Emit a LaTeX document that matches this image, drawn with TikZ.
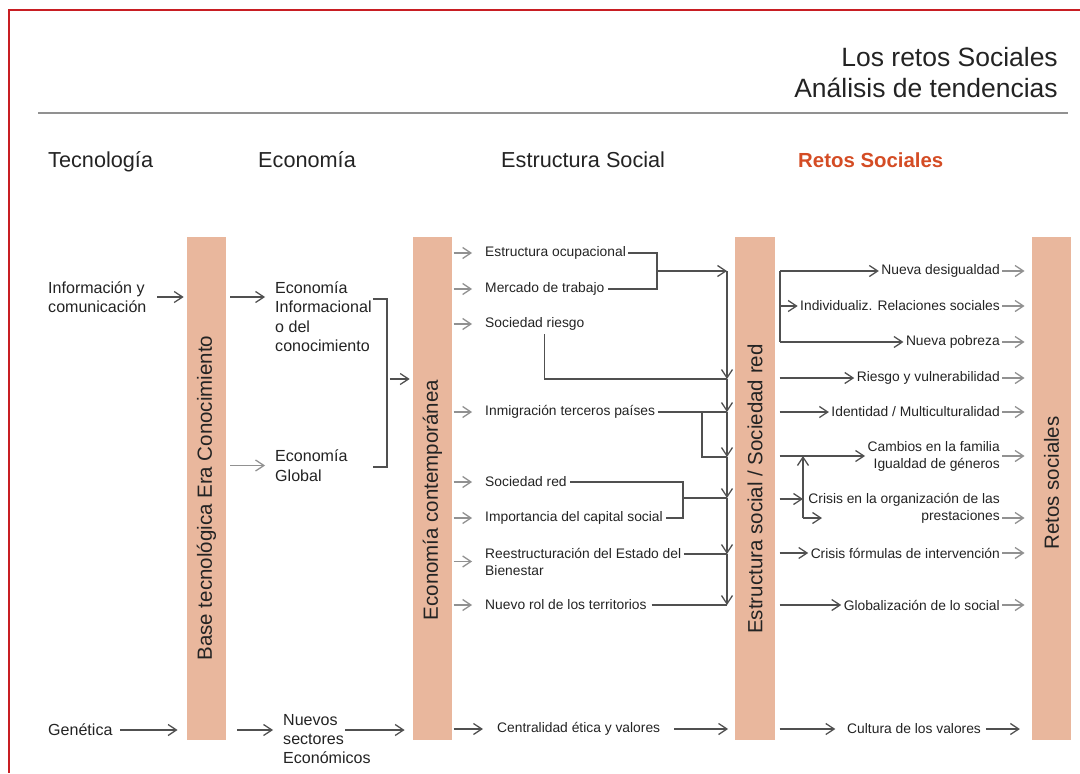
\documentclass[tikz,border=0pt]{standalone}
\usepackage{fontspec}
\setmainfont{Liberation Sans}
\usetikzlibrary{arrows.meta}

\definecolor{salmon}{RGB}{233,183,157}
\definecolor{marco}{RGB}{200,30,35}
\definecolor{naranja}{RGB}{212,76,36}
\definecolor{texto}{RGB}{35,35,35}
\definecolor{gris}{RGB}{80,80,80}
\definecolor{grisclaro}{RGB}{145,145,145}

\tikzset{
  barra/.style={fill=salmon, minimum width=1.18cm, minimum height=15.09cm, inner sep=0pt},
  rotulo/.style={rotate=90, text=texto, font=\fontsize{17.5}{20}\selectfont},
  titulo/.style={text=texto, font=\fontsize{18.5}{22}\selectfont, anchor=base west, inner sep=0pt},
  medio/.style={text=texto, font=\fontsize{13.7}{16.6}\selectfont, align=left, anchor=west, inner sep=0pt},
  chico/.style={text=texto, font=\fontsize{11.8}{14.5}\selectfont, align=left, anchor=west, inner sep=0pt},
  chicod/.style={chico, align=right, anchor=east},
  linea/.style={draw=gris, line width=1.1pt},
  flecha/.style={linea, -{Straight Barb[length=2.5mm,width=3.3mm]}},
  flechaclara/.style={flecha, draw=grisclaro},
}

\begin{document}
\begin{tikzpicture}[x=0.03cm, y=-0.03cm]
        \useasboundingbox (0,0) rectangle (1080,773);
        % Marco
        \draw[marco, line width=1.2pt] (1080,10) -- (9,10) -- (9,773);

        % Titulo
        \node[titulo, anchor=east, align=right, font=\fontsize{22.6}{26.4}\selectfont] (titulo) at (1058,72.5) {Los retos Sociales\\Análisis de tendencias};
        \draw[grisclaro, line width=1.8pt] (38,113) -- (1068,113);

        % Cabeceras
        \node[titulo] (htec) at (48,167) {Tecnología};
        \node[titulo] (heco) at (258,167) {Economía};
        \node[titulo] (hest) at (501,167) {Estructura Social};
        \node[titulo, text=naranja, font=\bfseries\fontsize{17.4}{22}\selectfont] (hret) at (798,167) {Retos Sociales};

        % Barras
        \node[barra] (bartec) at (206.5,488.5) {};
        \node[barra] (bareco) at (432.5,488.5) {};
        \node[barra] (barsoc) at (755,488.5) {};
        \node[barra] (barret) at (1051.5,488.5) {};
        \node[rotulo] (rtec) at (206.5,498) {Base tecnológica Era Conocimiento};
        \node[rotulo] (reco) at (432.5,500) {Economía contemporánea};
        \node[rotulo] (rsoc) at (755,489) {Estructura social / Sociedad red};
        \node[rotulo] (rret) at (1051.5,483) {Retos sociales};

        % Tecnologia
        \node[medio] (info) at (48,297) {Información y\\comunicación};
        \node[medio] (genet) at (48,730) {Genética};
        \draw[flecha, shorten <=9pt, shorten >=2.5pt] (info) -- (info -| bartec.west);
        \draw[flecha, shorten <=6.4pt, shorten >=7.7pt] (genet) -- (genet -| bartec.west);

        % Economia
        \node[medio] (ecoinf) at (275,316.5) {Economía\\Informacional\\o del\\conocimiento};
        \node[medio] (ecoglob) at (275,465.5) {Economía\\Global};
        \node[medio] (nuevos) at (283,739) {Nuevos\\sectores\\Económicos};
        \draw[flecha, shorten <=3.4pt, shorten >=8.5pt] (bartec.east |- info) -- (ecoinf.west |- info);
        \draw[flechaclara, shorten <=3.4pt, shorten >=8.5pt] (bartec.east |- ecoglob) -- (ecoglob.west);
        \draw[flecha, shorten <=9.4pt, shorten >=8.5pt] (bartec.east |- genet) -- (nuevos.west |- genet);
        \coordinate (llaveA) at (387,299);
        \coordinate (llaveB) at (387,467);
        \coordinate (llaveM) at (387,379);
        \draw[linea] ([xshift=1pt]ecoinf.east |- llaveA) -- (llaveA) -- (llaveB) -- ([xshift=1pt]ecoinf.east |- llaveB);
        \draw[flecha, shorten <=2.5pt, shorten >=2.5pt] (llaveM) -- (llaveM -| bareco.west);
        \draw[flecha, shorten >=6.8pt] ([xshift=-22pt]nuevos.east |- genet) -- (genet -| bareco.west);

        % Estructura social
        \node[chico] (eocup) at (485,253) {Estructura ocupacional};
        \node[chico] (emerc) at (485,289) {Mercado de trabajo};
        \node[chico] (eriesgo) at (485,324) {Sociedad riesgo};
        \node[chico] (einmig) at (485,412) {Inmigración terceros países};
        \node[chico] (ered) at (485,482) {Sociedad red};
        \node[chico] (ecap) at (485,518) {Importancia del capital social};
        \node[chico] (ereest) at (485,561.5) {Reestructuración del Estado del\\Bienestar};
        \node[chico] (eterr) at (485,605) {Nuevo rol de los territorios};
        \node[chico] (ecentral) at (497,729) {Centralidad ética y valores};
        \foreach \n in {eocup,emerc,eriesgo,einmig,ered,ecap,ereest,eterr}
          \draw[flechaclara, shorten <=1pt, shorten >=11pt] (bareco.east |- \n) -- (\n.west);

        % Colector hacia la estructura social
        \coordinate (bocup) at (657,271);
        \coordinate (binmig) at (702,412);
        \coordinate (bred) at (683,498);
        \coordinate (c1) at (727,271);
        \coordinate (c2) at (727,379);
        \coordinate (c3) at (727,412);
        \coordinate (c4) at (727,457);
        \coordinate (c5) at (727,498);
        \coordinate (c6) at (727,554);
        \coordinate (c7) at (727,605);
        \draw[linea] ([xshift=2pt]eocup.east) -| (bocup) |- ([xshift=3pt]emerc.east);
        \draw[flecha] (bocup) -- (c1);
        \foreach \a/\b in {c1/c2,c2/c3,c3/c4,c4/c5,c5/c6,c6/c7}
          \draw[flecha] (\a) -- (\b);
        \draw[linea] ([xshift=8pt,yshift=-3pt]eriesgo.south) |- (c2);
        \draw[linea] ([xshift=2pt]einmig.east) -- (c3);
        \draw[linea] (binmig) |- (c4);
        \draw[linea] ([xshift=3pt]ered.east) -| (bred) |- ([xshift=3pt]ecap.east);
        \draw[linea] (bred) -- (c5);
        \draw[linea] ([xshift=2pt]ereest.east |- c6) -- (c6);
        \draw[linea] ([xshift=4pt]eterr.east) -- (c7);
        \draw[flecha, shorten <=1pt, shorten >=12pt] (bareco.east |- ecentral) -- (ecentral.west);
        \draw[flecha, shorten <=12pt, shorten >=6pt] (ecentral.east) -- (ecentral -| barsoc.west);

        % Retos sociales
        \node[chicod] (rdesig) at (1000,271) {Nueva desigualdad};
        \node[chicod] (rindiv) at (1000,306) {Individualiz. Relaciones sociales};
        \node[chicod] (rpobr) at (1000,342) {Nueva pobreza};
        \node[chicod] (rriesgo) at (1000,378) {Riesgo y vulnerabilidad};
        \node[chicod] (rident) at (1000,412) {Identidad / Multiculturalidad};
        \node[chicod] (rfam) at (1000,456) {Cambios en la familia\\Igualdad de géneros};
        \node[chicod] (rcris) at (1000,508) {Crisis en la organización de las\\prestaciones};
        \node[chicod] (rform) at (1000,553) {Crisis fórmulas de intervención};
        \node[chicod] (rglob) at (1000,605) {Globalización de lo social};
        \node[chico] (rcult) at (847,729) {Cultura de los valores};

        \coordinate (lret) at (780,271);
        \coordinate (lretb) at (780,342);
        \coordinate (lcris) at (803,518);
        \coordinate (lcrism) at (803,499);
        \coordinate (lcrisfin) at (822,518);
        \draw[linea] (lret) -- (lretb);
        \draw[flecha, shorten >=2pt] (lret) -- (rdesig.west);
        \draw[flecha, shorten >=2pt] (lret |- rindiv) -- (rindiv.west);
        \draw[flecha, shorten >=2pt] (lretb) -- (rpobr.west);
        \foreach \n in {rriesgo,rident,rfam,rform,rglob}
          \draw[flecha, shorten <=4pt, shorten >=2pt] (barsoc.east |- \n) -- (\n.west);
        \draw[flecha] (lcris) -- (lcris |- rfam);
        \draw[flecha] (lcris) -- (lcrisfin);
        \draw[flecha, shorten <=4pt] (barsoc.east |- lcrism) -- (lcrism);
        \draw[flecha, shorten <=4pt, shorten >=10pt] (barsoc.east |- rcult) -- (rcult.west);

        % Flechas hacia la barra final
        \foreach \n in {rdesig,rindiv,rpobr,rriesgo,rident,rfam,rform,rglob}
          \draw[flechaclara, shorten <=2pt, shorten >=6pt] (\n.east) -- (\n.east -| barret.west);
        \draw[flechaclara, shorten <=2pt, shorten >=6pt] (rcris.east |- lcris) -- (lcris -| barret.west);
        \draw[flecha, shorten <=4pt, shorten >=10pt] (rcult.east) -- (rcult -| barret.west);
    \end{tikzpicture}
\end{document}
